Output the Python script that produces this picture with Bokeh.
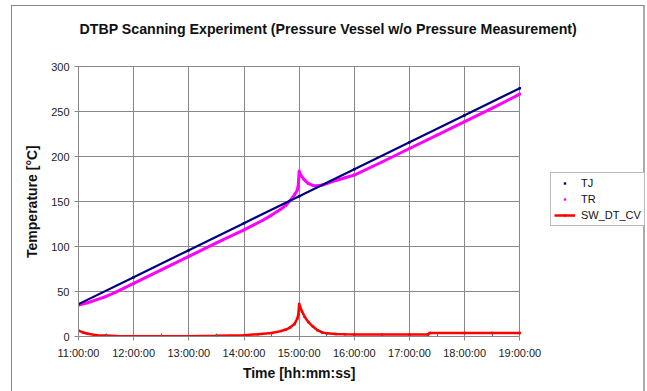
import pandas as pd
from bokeh.plotting import figure
from bokeh.models import (Range1d, FixedTicker, DatetimeTickFormatter, Legend,
                          LegendItem, Label, Grid, LinearAxis)
from bokeh.embed import file_html
from bokeh.resources import INLINE

DAY = "2000-01-01 "

# ---- data ----
tick_labels = ["11:00:00", "12:00:00", "13:00:00", "14:00:00", "15:00:00",
               "16:00:00", "17:00:00", "18:00:00", "19:00:00"]
minor_labels = ["11:30:00", "12:30:00", "13:30:00", "14:30:00", "15:30:00",
                "16:30:00", "17:30:00", "18:30:00"]
y_ticks = [0, 50, 100, 150, 200, 250, 300]

tj_time = ["11:00", "12:00", "13:00", "14:00", "15:00", "16:00", "17:00", "18:00", "19:00"]
tj_temp = [36, 66, 96, 126, 156, 186, 216, 246, 276]

tr_time = ["11:00", "11:10", "11:20", "11:30", "11:40", "11:50", "12:00", "12:30",
           "13:00", "13:30", "14:00", "14:20", "14:30", "14:40", "14:45", "14:50",
           "14:55", "14:58", "14:59", "15:00", "15:02", "15:05", "15:10", "15:15",
           "15:20", "15:25", "15:30", "15:40", "15:50", "16:00", "16:30", "17:00",
           "17:30", "18:00", "18:30", "19:00"]
tr_temp = [35, 37.5, 41, 44.5, 49, 54, 59, 74,
           89, 104, 118.5, 129, 135, 141.5, 145.5, 151,
           157.5, 163, 168, 184, 179, 175, 170, 168,
           167.5, 168.5, 170, 173.5, 176.5, 179.5, 194, 209,
           224, 239, 254, 269.5]

sw_time = ["11:00", "11:05", "11:10", "11:20", "11:30", "11:40", "12:00", "12:30",
           "13:00", "13:30", "14:00", "14:15", "14:30", "14:40", "14:45", "14:50",
           "14:55", "14:58", "14:59", "15:00", "15:01", "15:03", "15:06", "15:10",
           "15:15", "15:20", "15:25", "15:30", "15:40", "15:50", "16:00", "16:30",
           "17:00", "17:20", "17:22", "18:00", "18:30", "19:00"]
sw_val = [6.5, 4.5, 3, 1.5, 1, 0.5, 0.3, 0.2,
          0.3, 0.8, 1.5, 2.5, 4, 6, 7.5, 10,
          14, 20, 24, 36, 33, 28, 22, 16,
          11, 7, 4.5, 3.5, 2.8, 2.5, 2.3, 2.3,
          2.3, 2.3, 3.8, 3.8, 3.8, 3.8]

TITLE = "DTBP Scanning Experiment (Pressure Vessel w/o Pressure Measurement)"
X_LABEL = "Time [hh:mm:ss]"
Y_LABEL = "Temperature [°C]"


def to_dt(times):
    return pd.to_datetime([DAY + t for t in times])


def to_ms(ts):
    return int(pd.Timestamp(ts).value // 1_000_000)


FONT = "Liberation Sans"

# ---- layout (window pixels) ----
WIN_X0, WIN_Y0 = 12, 6          # canvas origin inside the bordered box
FR_L, FR_R, FR_T, FR_B = 78, 642, 6, 335   # frame box
AX_X0, AX_X1 = 78, 517          # pixel of first / last time tick
AX_Y300 = 66                    # pixel of y = 300

x0 = pd.Timestamp(DAY + tick_labels[0])
x1 = pd.Timestamp(DAY + tick_labels[-1])
span = x1 - x0
x_end = x0 + span * ((FR_R - AX_X0) / (AX_X1 - AX_X0))
ymax = y_ticks[-1]
y_per_px = ymax / (FR_B - AX_Y300)
y_top = (FR_B - FR_T) * y_per_px

CW, CH = 631, 385
p = figure(width=CW + 3, height=CH + 1, output_backend="svg", toolbar_location=None,
           x_axis_type="datetime",
           x_range=Range1d(x0, x_end), y_range=Range1d(0, y_top),
           min_border_left=FR_L - WIN_X0, min_border_right=(WIN_X0 + CW) - FR_R,
           min_border_top=0, min_border_bottom=(WIN_Y0 + CH) - FR_B,
           styles={"margin-left": "11px", "margin-top": "5px",
                   "border-left": "1px solid #888888",
                   "border-top": "1px solid #888888",
                   "border-right": "2px solid #aaaaaa"})
p.background_fill_color = "white"
p.border_fill_color = "white"
p.outline_line_color = None
p.title.text = ""
p.title.visible = False

# title drawn inside the (extended) frame
p.add_layout(Label(x=x0, y=ymax + (AX_Y300 - 28.5) * y_per_px, text=TITLE,
                   x_offset=1, text_align="left", text_baseline="middle",
                   text_font=FONT, text_font_size="14.2px", text_font_style="bold",
                   text_color="#111111"))

# x axis
p.xaxis.ticker = FixedTicker(ticks=[to_ms(DAY + s) for s in tick_labels],
                             minor_ticks=[to_ms(DAY + s) for s in minor_labels])
fmt = "%H:%M:%S"
p.xaxis.formatter = DatetimeTickFormatter(
    microseconds=fmt, milliseconds=fmt, seconds=fmt, minsec=fmt, minutes=fmt,
    hourmin=fmt, hours=fmt, days=fmt, months=fmt, years=fmt)
p.xaxis.major_label_standoff = 6
p.xaxis.minor_tick_in = 3
p.xaxis.minor_tick_out = 0
p.xaxis.minor_tick_line_color = "#666666"
p.xaxis.bounds = (to_ms(x0), to_ms(x1))

# y axis
p.yaxis.ticker = FixedTicker(ticks=y_ticks)
p.yaxis.major_label_standoff = 5
p.yaxis.minor_tick_line_color = None
p.yaxis.bounds = (0, ymax)

for ax in (p.xaxis, p.yaxis):
    ax.axis_line_color = "#888888"
    ax.major_tick_line_color = "#888888"
    ax.major_tick_out = 4
    ax.major_tick_in = 0
    ax.major_label_text_font = FONT
    ax.major_label_text_font_size = "11px"
    ax.major_label_text_color = "#222222"


def label_axis(tick, text, standoff, **kw):
    return LinearAxis(ticker=FixedTicker(ticks=[tick]),
                      major_label_overrides={tick: text},
                      axis_line_color=None, major_tick_line_color=None,
                      minor_tick_line_color=None, major_label_standoff=standoff,
                      major_label_text_font=FONT, major_label_text_font_size="14px",
                      major_label_text_font_style="bold",
                      major_label_text_color="#111111", **kw)


# axis titles centred on the data span (extra axes carrying one label each)
mid_x = to_ms(x0 + span / 2)
p.add_layout(label_axis(mid_x, X_LABEL, -3), "below")
mid_y = int(ymax // 2)
p.add_layout(label_axis(mid_y, Y_LABEL, 2, major_label_orientation="vertical"), "left")

GRID_C = "#888888"
if "cross_bounds" in Grid.properties():
    p.xgrid.cross_bounds = (0, ymax)
    p.ygrid.cross_bounds = (to_ms(x0), to_ms(x1))
    p.grid.grid_line_color = GRID_C
    p.grid.grid_line_width = 1
else:
    p.grid.grid_line_color = None
    xt = to_dt([s[:5] for s in tick_labels])
    p.segment(x0=xt, y0=[0] * len(xt), x1=xt, y1=[ymax] * len(xt),
              line_color=GRID_C, line_width=1)
    p.segment(x0=[x0] * len(y_ticks), y0=y_ticks, x1=[x1] * len(y_ticks), y1=y_ticks,
              line_color=GRID_C, line_width=1)

# series
NAVY = "#000080"
MAG = "#FF00FF"
RED = "#FF0000"
p.line(to_dt(tr_time), tr_temp, color=MAG, line_width=3)
tr_m = p.scatter(to_dt(tr_time), tr_temp, marker="square", size=2.5,
                 fill_color=MAG, line_alpha=0)
p.line(to_dt(tj_time), tj_temp, color=NAVY, line_width=2.2)
tj_m = p.scatter(to_dt(tj_time), tj_temp, marker="square", size=2.5,
                 fill_color=NAVY, line_alpha=0)
sw_l = p.line(to_dt(sw_time), sw_val, color=RED, line_width=2.5)
sw_m = p.scatter(to_dt(sw_time), sw_val, marker="square", size=2.5,
                 fill_color=RED, line_alpha=0)

legend = Legend(items=[LegendItem(label="TJ", renderers=[tj_m]),
                       LegendItem(label="TR", renderers=[tr_m]),
                       LegendItem(label="SW_DT_CV", renderers=[sw_l, sw_m])],
                location=(550 - FR_L, FR_B - 225))
legend.label_text_font = FONT
legend.label_text_font_size = "11px"
legend.label_text_color = "#111111"
legend.border_line_color = "#777777"
legend.border_line_width = 1
legend.padding = 3
legend.margin = 0
legend.spacing = 2
legend.label_height = 14
legend.glyph_height = 6
legend.glyph_width = 21
legend.label_standoff = 6
legend.background_fill_alpha = 1
p.add_layout(legend)

open("out.html", "w").write(file_html(p, INLINE))
